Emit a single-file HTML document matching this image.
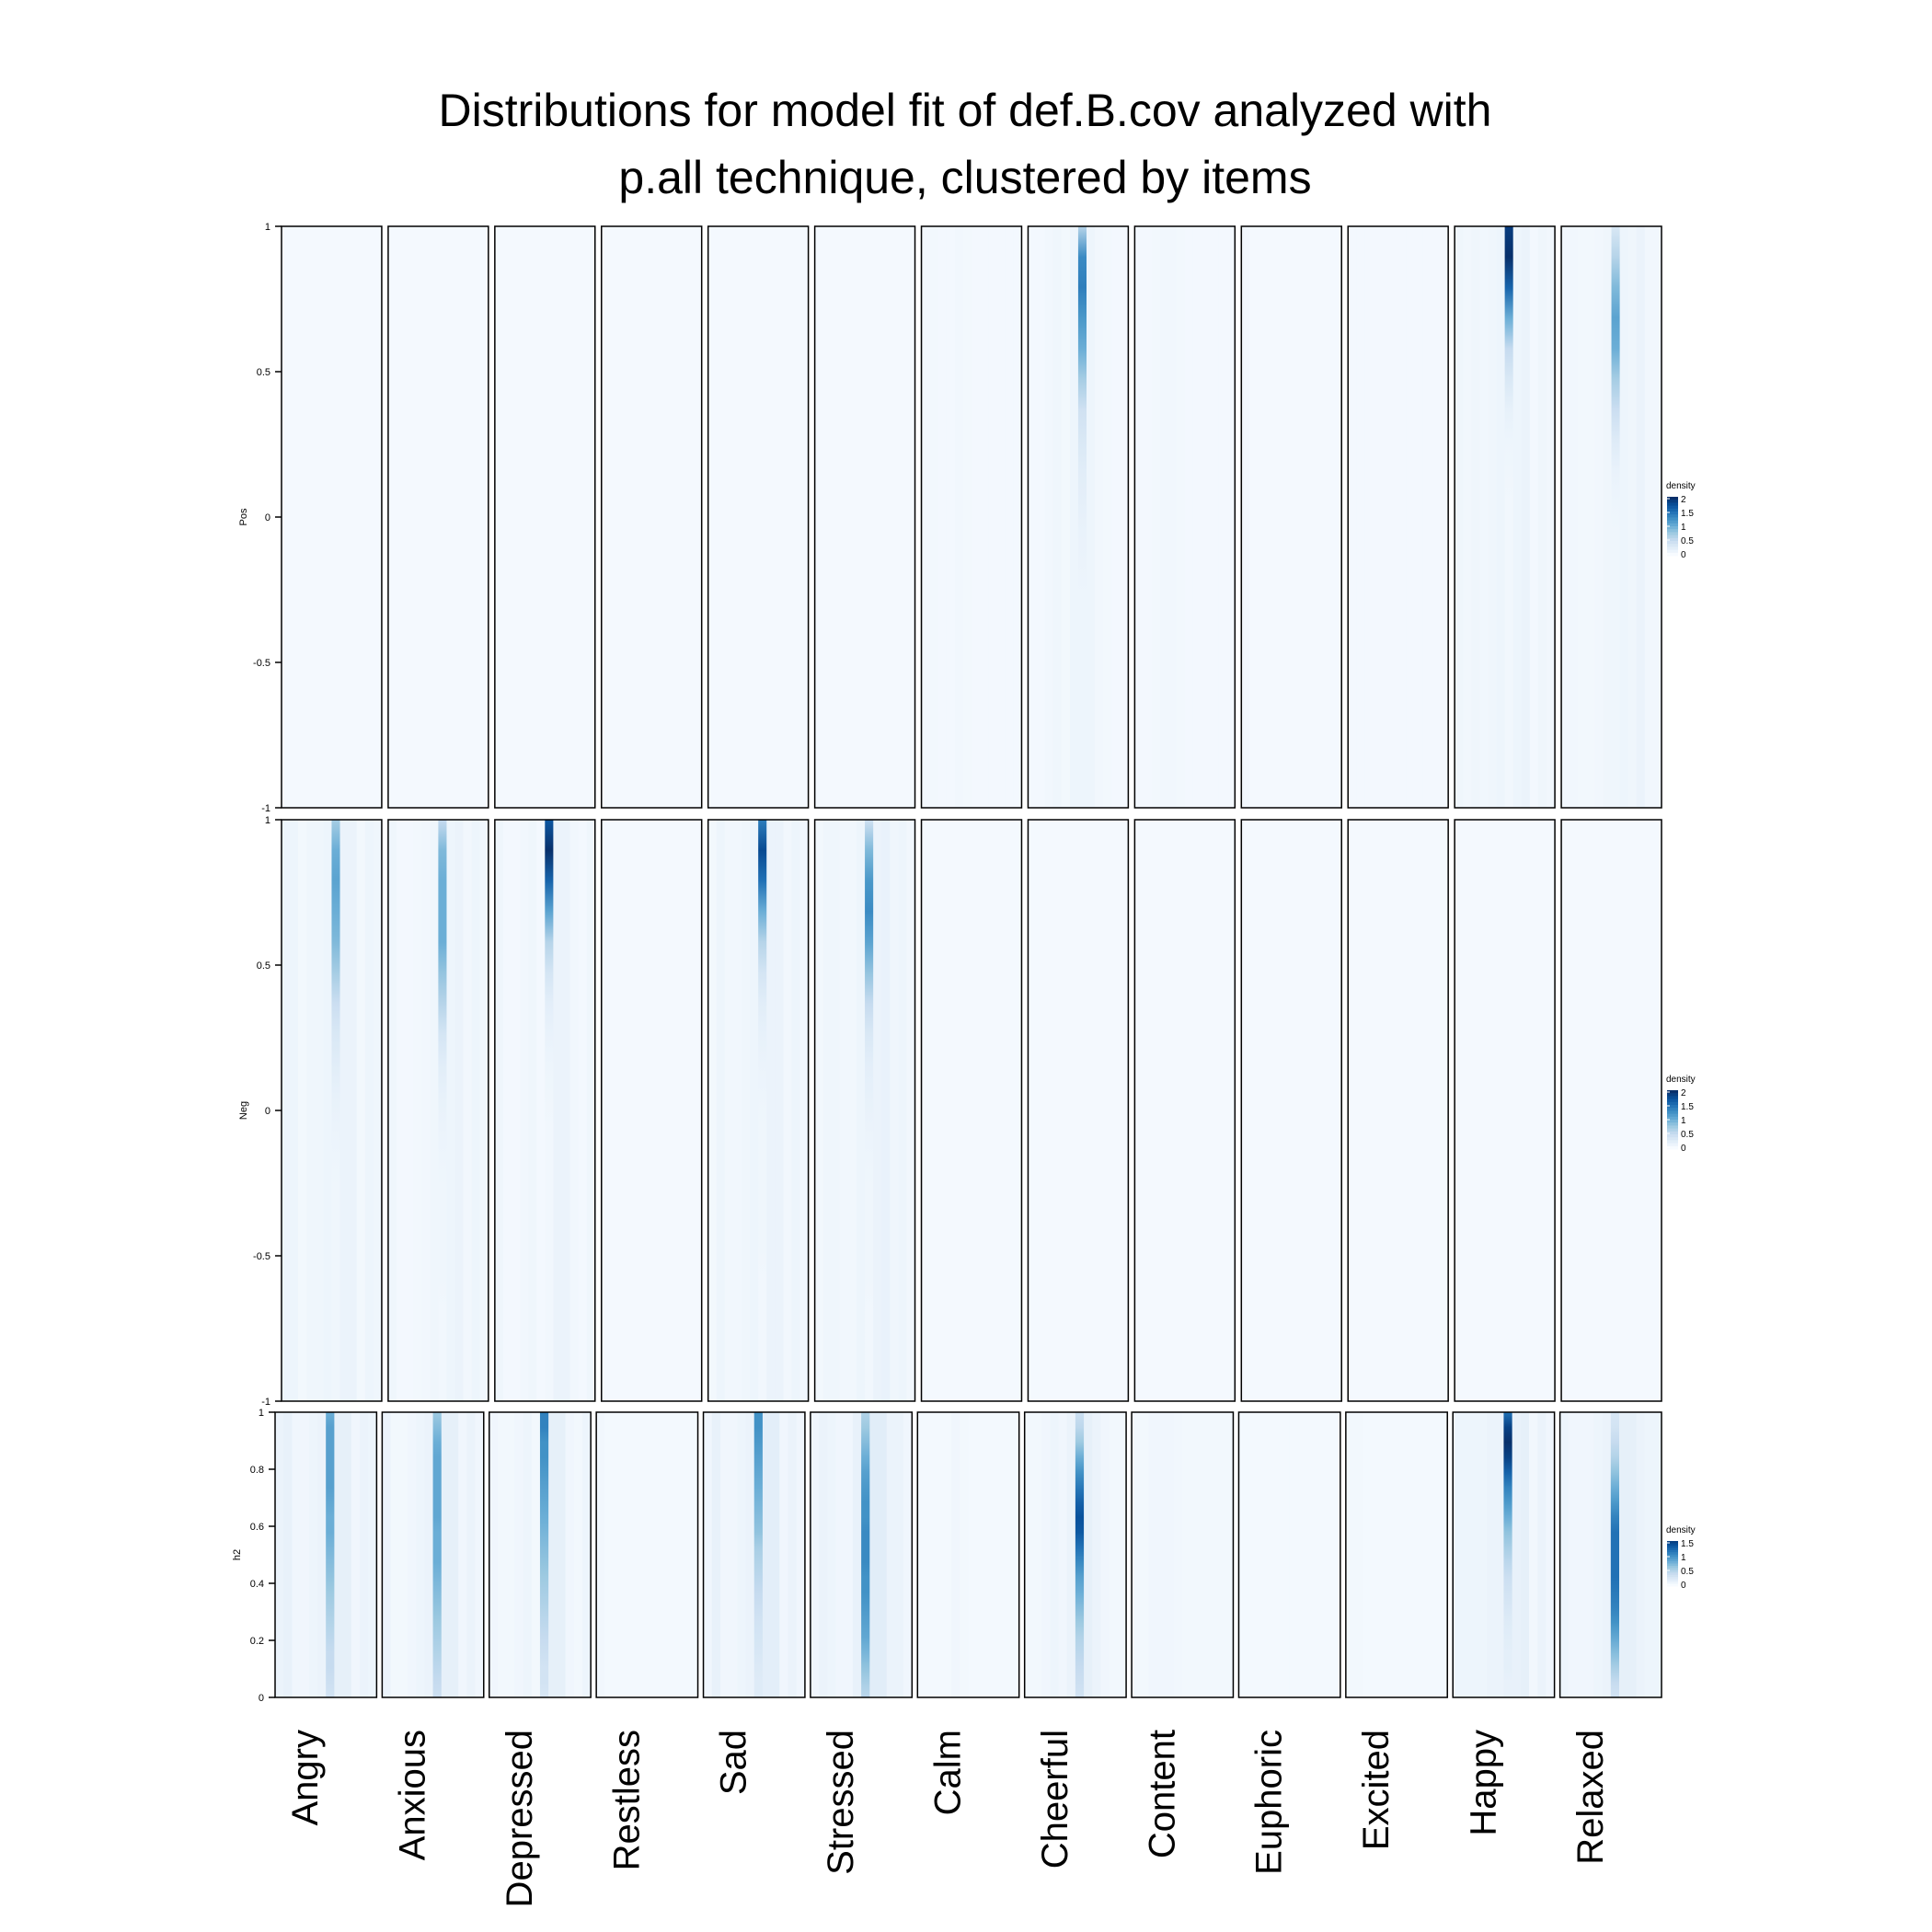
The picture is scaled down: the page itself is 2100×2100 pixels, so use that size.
<!DOCTYPE html>
<html><head><meta charset="utf-8"><style>
html,body{margin:0;padding:0;background:#fff;}
svg{display:block;font-family:"Liberation Sans",sans-serif;}
</style></head><body>
<svg id="chart" width="2100" height="2100" viewBox="0 0 2100 2100" xmlns="http://www.w3.org/2000/svg">
<defs id="defs"></defs>
<text x="1049" y="137" font-size="50" text-anchor="middle">Distributions for model fit of def.B.cov analyzed with</text>
<text x="1049" y="210" font-size="50" text-anchor="middle">p.all technique, clustered by items</text>
<g id="plot"></g>
</svg>
<script>
// ---- data ----
const items = ["Angry","Anxious","Depressed","Restless","Sad","Stressed","Calm","Cheerful","Content","Euphoric","Excited","Happy","Relaxed"];
const rowNames = ["Pos","Neg","h2"];
const posTicks = [1,0.5,0,-0.5,-1];
const negTicks = [1,0.5,0,-0.5,-1];
const h2Ticks = [1,0.8,0.6,0.4,0.2,0];
const legend12Ticks = [2,1.5,1,0.5,0];
const legend3Ticks = [1.5,1,0.5,0];
const flat = [0.03,0.03,0.03,0.03,0.03,0.03,0.03,0.03,0.03,0.03,0.03,0.03];
// stripe (background column) densities per panel
const posBase = [flat,flat,flat,flat,flat,flat,
  [0.04,0.05,0.04,0.04,0.06,0.05,0.04,0.04,0.04,0.04,0.04,0.04],
  [0.04,0.04,0.06,0.08,0.05,0.10,0.12,0.10,0.06,0.05,0.04,0.04],
  [0.04,0.04,0.05,0.06,0.06,0.05,0.04,0.04,0.04,0.04,0.04,0.04],
  [0.06,0.03,0.03,0.03,0.03,0.03,0.03,0.03,0.03,0.03,0.03,0.03],
  [0.04,0.04,0.04,0.04,0.04,0.04,0.04,0.04,0.04,0.04,0.04,0.04],
  [0.08,0.06,0.08,0.07,0.08,0.10,0.12,0.10,0.12,0.04,0.08,0.06],
  [0.06,0.06,0.05,0.05,0.06,0.08,0.10,0.10,0.08,0.12,0.06,0.06]];
const posPeak = [null,null,null,null,null,null,null,
  [0.6,1.3,1.4,1.2,1.0,0.7,0.4,0.3,0.22,0.18,0.14,0.12,0.1,0.1,0.1,0.1,0.1,0.1,0.1,0.1],
  null,null,null,
  [1.9,2.0,1.6,1.0,0.5,0.3,0.16,0.1,0.08,0.06,0.06,0.06,0.06,0.06,0.06,0.06,0.06,0.06,0.06,0.06],
  [0.3,0.6,0.9,1.1,1.0,0.7,0.45,0.25,0.14,0.1,0.08,0.08,0.08,0.08,0.08,0.08,0.08,0.08,0.08,0.08]];
const negBase = [
  [0.10,0.10,0.05,0.08,0.08,0.10,0.08,0.12,0.12,0.05,0.10,0.08],
  [0.08,0.04,0.04,0.05,0.06,0.08,0.05,0.10,0.12,0.06,0.10,0.06],
  [0.08,0.04,0.04,0.06,0.08,0.04,0.06,0.12,0.12,0.06,0.04,0.08],
  [0.05,0.03,0.03,0.03,0.03,0.03,0.03,0.03,0.03,0.03,0.03,0.03],
  [0.05,0.10,0.06,0.06,0.08,0.10,0.07,0.12,0.12,0.06,0.10,0.06],
  [0.05,0.08,0.08,0.06,0.06,0.10,0.06,0.12,0.14,0.08,0.10,0.06],
  flat,flat,flat,flat,flat,flat,flat];
const negPeak = [
  [0.7,1.0,1.1,1.0,0.9,0.7,0.45,0.3,0.22,0.16,0.12,0.1,0.08,0.08,0.08,0.08,0.08,0.08,0.08,0.08],
  [0.5,0.9,1.0,1.0,1.0,0.8,0.6,0.35,0.22,0.16,0.12,0.1,0.08,0.08,0.08,0.08,0.06,0.06,0.06,0.06],
  [1.7,2.0,1.6,1.1,0.6,0.35,0.2,0.14,0.1,0.08,0.06,0.06,0.06,0.06,0.06,0.06,0.06,0.06,0.06,0.06],
  null,
  [1.4,1.8,1.5,1.0,0.6,0.35,0.22,0.16,0.12,0.1,0.08,0.08,0.08,0.08,0.08,0.06,0.06,0.06,0.06,0.06],
  [0.4,0.9,1.2,1.3,1.1,0.8,0.5,0.3,0.2,0.16,0.12,0.1,0.08,0.08,0.08,0.08,0.06,0.06,0.06,0.06],
  null,null,null,null,null,null,null];
const h2Base = [
  [0.10,0.12,0.06,0.06,0.08,0.10,0.08,0.14,0.14,0.06,0.10,0.08],
  [0.10,0.04,0.04,0.06,0.08,0.10,0.08,0.14,0.14,0.06,0.10,0.06],
  [0.06,0.04,0.04,0.06,0.08,0.04,0.06,0.14,0.14,0.06,0.04,0.08],
  [0.05,0.03,0.03,0.03,0.03,0.03,0.03,0.03,0.03,0.03,0.03,0.03],
  [0.06,0.12,0.06,0.06,0.08,0.10,0.08,0.16,0.16,0.06,0.10,0.06],
  [0.06,0.10,0.08,0.06,0.06,0.12,0.08,0.18,0.18,0.10,0.10,0.06],
  [0.03,0.03,0.03,0.03,0.06,0.04,0.03,0.03,0.03,0.03,0.03,0.03],
  [0.04,0.04,0.06,0.08,0.06,0.10,0.12,0.14,0.10,0.06,0.04,0.04],
  [0.04,0.04,0.06,0.06,0.06,0.05,0.04,0.04,0.04,0.04,0.04,0.04],
  flat,
  [0.04,0.04,0.03,0.03,0.03,0.03,0.03,0.03,0.03,0.03,0.03,0.03],
  [0.08,0.08,0.08,0.08,0.10,0.10,0.12,0.12,0.14,0.05,0.10,0.06],
  [0.08,0.06,0.06,0.06,0.08,0.10,0.12,0.14,0.14,0.10,0.08,0.08]];
const h2Peak = [
  [0.8,0.9,0.9,0.9,0.9,0.9,0.85,0.8,0.8,0.75,0.7,0.65,0.6,0.55,0.5,0.45,0.4,0.4,0.35,0.3],
  [0.6,0.7,0.8,0.85,0.85,0.85,0.85,0.85,0.8,0.8,0.8,0.75,0.7,0.65,0.6,0.55,0.5,0.45,0.4,0.35],
  [1.1,1.1,1.0,1.0,0.95,0.9,0.85,0.8,0.75,0.7,0.65,0.6,0.55,0.5,0.45,0.4,0.35,0.3,0.3,0.25],
  null,
  [1.0,1.0,0.95,0.9,0.85,0.8,0.75,0.7,0.65,0.55,0.5,0.45,0.4,0.35,0.3,0.28,0.25,0.22,0.2,0.2],
  [0.5,0.6,0.7,0.8,0.9,0.95,1.0,1.0,1.05,1.05,1.05,1.0,1.0,0.95,0.9,0.85,0.75,0.65,0.55,0.45],
  null,
  [0.35,0.45,0.6,0.8,1.0,1.15,1.3,1.4,1.35,1.2,1.05,0.9,0.8,0.7,0.6,0.5,0.45,0.4,0.35,0.3],
  null,null,null,
  [1.2,1.5,1.6,1.5,1.3,1.1,0.95,0.8,0.65,0.55,0.45,0.35,0.3,0.25,0.2,0.18,0.15,0.15,0.12,0.12],
  [0.25,0.3,0.4,0.5,0.65,0.8,0.95,1.1,1.2,1.2,1.2,1.2,1.15,1.1,1.0,0.85,0.7,0.55,0.4,0.3]];

// ---- layout ----
const NS = "http://www.w3.org/2000/svg";
const plot = document.getElementById('plot');
const defs = document.getElementById('defs');
const rows = [
  {name:"Pos", top:246, bottom:878, left:306, right:1806, gap:7, ticks:posTicks, vmin:-1, vmax:1, base:posBase, peak:posPeak, dmax:2, legY:531, legTicks:legend12Ticks},
  {name:"Neg", top:891, bottom:1523, left:306, right:1806, gap:7, ticks:negTicks, vmin:-1, vmax:1, base:negBase, peak:negPeak, dmax:2, legY:1176, legTicks:legend12Ticks},
  {name:"h2", top:1535, bottom:1845, left:299, right:1806, gap:6, ticks:h2Ticks, vmin:0, vmax:1, base:h2Base, peak:h2Peak, dmax:1.6, legY:1666, legTicks:legend3Ticks}
];
const stops = ["#f7fbff","#deebf7","#c6dbef","#9ecae1","#6baed6","#4292c6","#2171b5","#08519c","#08306b"];
function hex(c){return [1,3,5].map(i=>parseInt(c.substr(i,2),16));}
function color(d,dmax){
  let t=Math.max(0,Math.min(1,d/dmax))*(stops.length-1);
  let i=Math.min(stops.length-2,Math.floor(t)), f=t-i;
  let a=hex(stops[i]), b=hex(stops[i+1]);
  return "rgb("+a.map((v,k)=>Math.round(v+(b[k]-v)*f)).join(",")+")";
}
function mk(tag,attrs,parent){const e=document.createElementNS(NS,tag);for(const k in attrs)e.setAttribute(k,attrs[k]);(parent||plot).appendChild(e);return e;}

rows.forEach((r,ri)=>{
  const n=items.length;
  const W=(r.right-r.left-r.gap*(n-1))/n;
  const yScale=v=>r.top+(r.vmax-v)/(r.vmax-r.vmin)*(r.bottom-r.top);
  r.ticks.forEach(t=>{
    const y=yScale(t);
    const tl=mk('line',{x1:r.left-7,x2:r.left,y1:y,y2:y,stroke:'#000','stroke-width':1.5});
    
    
    const tx=mk('text',{x:r.left-12,y:y+4,'font-size':11,'text-anchor':'end'});
    tx.textContent=String(t);
    
    
  });
  const yl=mk('text',{x:0,y:0,'font-size':11,'text-anchor':'middle',transform:'translate('+(r.left-38)+','+((r.top+r.bottom)/2)+') rotate(-90)'});
  yl.textContent=r.name;
  
  
  items.forEach((it,pi)=>{
    const x0=r.left+pi*(W+r.gap);
    const g=mk('g',{});
    
    
    const base=r.base[pi], peak=r.peak[pi];
    const cw=W/base.length;
    base.forEach((d,ci)=>{
      if(peak && ci===6){
        const gid='grad-'+ri+'-'+pi;
        const lg=mk('linearGradient',{id:gid,x1:0,y1:0,x2:0,y2:1},defs);
        peak.forEach((pd,k)=>{
          mk('stop',{offset:(k/(peak.length-1)),'stop-color':color(pd,r.dmax)},lg);
        });
        const c=mk('rect',{x:x0+ci*cw,y:r.top,width:cw+0.4,height:r.bottom-r.top,fill:'url(#'+gid+')'},g);
        
        
      } else {
        const c=mk('rect',{x:x0+ci*cw,y:r.top,width:cw+0.4,height:r.bottom-r.top,fill:color(d,r.dmax)},g);
        
        
      }
    });
    const fr=mk('rect',{x:x0,y:r.top,width:W,height:r.bottom-r.top,fill:'none',stroke:'#000','stroke-width':1.5},g);
    
    
    if(ri===2){
      const cx=x0+W/2-9;
      const lb=mk('text',{x:0,y:0,'font-size':40,'text-anchor':'end',transform:'translate('+cx+',1880) rotate(-90)'});
      lb.textContent=it;
      
      
    }
  });
  const lg=mk('g',{});
  
  
  const lt=mk('text',{x:1811,y:r.legY,'font-size':10},lg);
  lt.textContent='density';
  
  
  const step=15, top=r.legY+9;
  const maxT=r.legTicks[0];
  const hBar=step*(r.legTicks.length-1)+4;
  const NSEG=20;
  for(let k=0;k<NSEG;k++){
    const d=maxT*(1-k/(NSEG-1));
    const s=mk('rect',{x:1812,y:top+k*hBar/NSEG,width:12,height:hBar/NSEG+0.5,fill:color(d,r.dmax)},lg);
    
    
  }
  r.legTicks.forEach((t,k)=>{
    const y=top+2+k*step;
    const tk=mk('line',{x1:1812,x2:1815,y1:y,y2:y,stroke:'#fff','stroke-width':1},lg);
    
    
    const tl=mk('text',{x:1827,y:y+4,'font-size':10},lg);
    tl.textContent=String(t);
    
    
  });
});
</script>
</body></html>
